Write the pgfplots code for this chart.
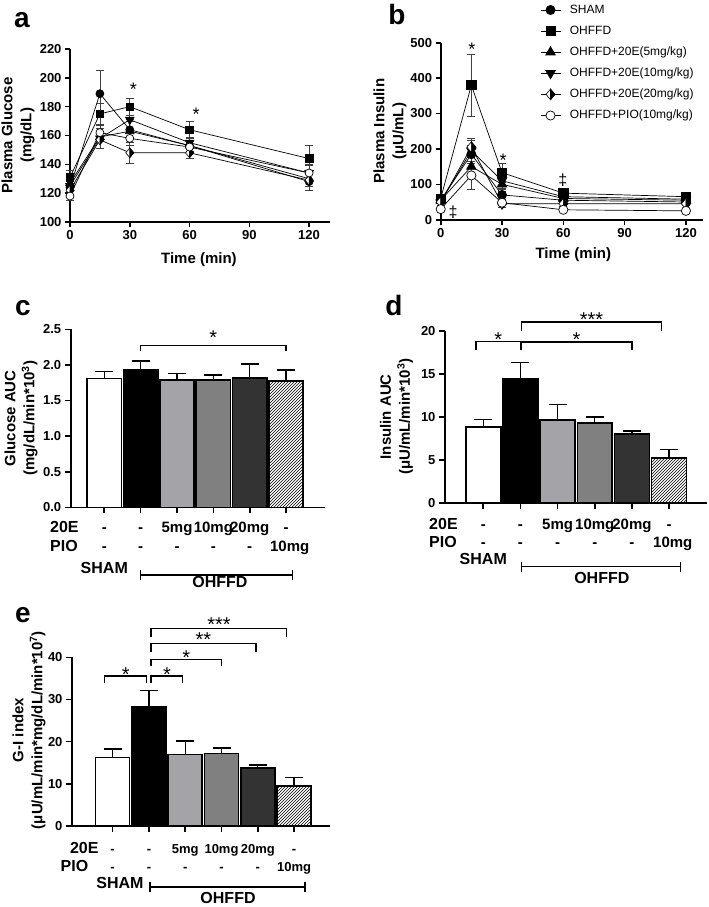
\documentclass[border=0pt]{standalone}
\usepackage{fontspec}
\setmainfont{Liberation Sans}
\usepackage{pgfplots}
\pgfplotsset{compat=1.18}
\usetikzlibrary{patterns,plotmarks}
\definecolor{gfive}{RGB}{163,163,168}
\definecolor{gten}{RGB}{128,128,128}
\definecolor{gtwenty}{RGB}{51,51,51}
\newcommand{\fs}[1]{\fontsize{#1}{#1}\selectfont}
\newcommand{\lf}{\fontsize{15}{19}\selectfont\bfseries}
% diamond with white left half and black right half
\pgfdeclareplotmark{hdr}{%
  \pgfscope
  \pgfsetfillcolor{white}%
  \pgfpathmoveto{\pgfqpoint{0pt}{\pgfplotmarksize}}%
  \pgfpathlineto{\pgfqpoint{0.85\pgfplotmarksize}{0pt}}%
  \pgfpathlineto{\pgfqpoint{0pt}{-\pgfplotmarksize}}%
  \pgfpathlineto{\pgfqpoint{-0.85\pgfplotmarksize}{0pt}}%
  \pgfpathclose
  \pgfusepathqfillstroke
  \endpgfscope
  \pgfscope
  \pgfsetfillcolor{black}%
  \pgfpathmoveto{\pgfqpoint{0pt}{\pgfplotmarksize}}%
  \pgfpathlineto{\pgfqpoint{0.85\pgfplotmarksize}{0pt}}%
  \pgfpathlineto{\pgfqpoint{0pt}{-\pgfplotmarksize}}%
  \pgfpathclose
  \pgfusepathqfillstroke
  \endpgfscope
}
\pgfplotsset{
  gp/.style={scale only axis, clip=false, axis lines=left,
    axis line style={line width=1.6pt,-},
    tick style={line width=1.6pt,black},
    major tick length=5pt, tick align=outside,
    xticklabel style={font=\fs{13}\bfseries},
    yticklabel style={font=\fs{13}\bfseries},
    /pgf/number format/assume math mode=true,
    xlabel style={font=\lf, align=center},
    ylabel style={font=\lf, align=center}},
  ln/.style={black, line width=0.7pt,
    error bars/y dir=both, error bars/y explicit,
    error bars/error bar style={line width=0.6pt, black!75},
    error bars/error mark options={rotate=90, mark size=4pt, line width=0.6pt, black!75}},
  br/.style={ybar, bar shift=0pt, bar width=0.94, draw=black, line width=1.6pt,
    error bars/y dir=plus, error bars/y explicit,
    error bars/error bar style={line width=1.4pt, black},
    error bars/error mark options={rotate=90, mark size=9pt, line width=1.4pt, black}},
}
\tikzset{
  brk/.style={line width=1.3pt},
  st/.style={font=\fs{20}, yshift=-4.3pt},
  stl/.style={font=\fs{18}, yshift=-3.9pt},
  hd/.style={anchor=base west, font=\fs{16}\bfseries},
  en/.style={anchor=base, font=\fs{15}\bfseries},
  ens/.style={anchor=base, font=\fs{13}\bfseries},
}
\begin{document}
\begin{tikzpicture}
\useasboundingbox (0pt,0pt) rectangle (709pt,-907pt);

% ---------------- panel a ----------------
\begin{axis}[gp, at={(70pt,-222pt)}, anchor=south west, width=260pt, height=173pt,
  xmin=0, xmax=130.5, ymin=100, ymax=220,
  xtick={0,30,60,90,120}, ytick={100,120,140,160,180,200,220},
  xlabel={Time (min)}, ylabel={Plasma Glucose\\(mg/dL)},
  xlabel style={at={(axis description cs:0.496,-0.22)}, anchor=center},
  ylabel style={at={(axis description cs:-0.2,0.5)}, anchor=center}]
\addplot[ln, mark=*, mark size=4pt, mark options={solid, fill=black}] coordinates {
 (0,124) +- (0,5) (15,189) +- (0,16) (30,164) +- (0,6) (60,153) +- (0,4) (120,128) +- (0,6)};
\addplot[ln, mark=square*, mark size=3.8pt, mark options={solid, fill=black}] coordinates {
 (0,131) +- (0,5) (15,175) +- (0,7) (30,180) +- (0,6) (60,164) +- (0,6) (120,144) +- (0,9)};
\addplot[ln, mark=triangle*, mark size=5pt, mark options={solid, fill=black}] coordinates {
 (0,127) +- (0,4) (15,159) +- (0,8) (30,163) +- (0,8) (60,153) +- (0,4) (120,130) +- (0,5)};
\addplot[ln, mark=triangle*, mark size=5pt, mark options={solid, fill=black, rotate=180}] coordinates {
 (0,125) +- (0,4) (15,158) +- (0,7) (30,171) +- (0,8) (60,155) +- (0,4) (120,134) +- (0,6)};
\addplot[ln, mark=hdr, mark size=4.8pt, mark options={solid, line width=0.6pt}] coordinates {
 (0,122) +- (0,4) (15,157) +- (0,6) (30,148) +- (0,7) (60,148) +- (0,4) (120,129) +- (0,7)};
\addplot[ln, mark=*, mark size=4pt, mark options={solid, fill=white}] coordinates {
 (0,118) +- (0,3) (15,162) +- (0,6) (30,158) +- (0,5) (60,152) +- (0,4) (120,134) +- (0,5)};
\node[stl] at (axis cs:31.8,195) {*};
\node[stl] at (axis cs:63.3,177.7) {*};
\end{axis}

% ---------------- panel b ----------------
\begin{axis}[gp, at={(440.7pt,-219.7pt)}, anchor=south west, width=262.6pt, height=177pt,
  xmin=0, xmax=128.5, ymin=0, ymax=500,
  xtick={0,30,60,90,120}, ytick={0,100,200,300,400,500},
  xlabel={Time (min)}, ylabel={Plasma Insulin\\(μU/mL)},
  xlabel style={at={(axis description cs:0.505,-0.2)}, anchor=center},
  ylabel style={at={(axis description cs:-0.193,0.5)}, anchor=center},
  legend image code/.code={\draw[mark repeat=2, mark phase=2, #1] plot coordinates {(0pt,0pt) (10pt,0pt) (20pt,0pt)};},
  legend style={at={(axis description cs:0.378,1.224)}, anchor=north west, draw=none, fill=none,
    font=\fs{12}, row sep=7.6pt, inner sep=0pt,
    nodes={inner sep=1pt, text height=9pt, text depth=2.5pt},
    /tikz/every odd column/.append style={column sep=8pt}},
  legend cell align=left]
\addplot[ln, mark=*, mark size=4.6pt, mark options={solid, fill=black}] coordinates {
 (0,55) +- (0,10) (15,185) +- (0,25) (30,70) +- (0,15) (60,55) +- (0,8) (120,50) +- (0,5)};
\addlegendentry{SHAM}
\addplot[ln, mark=square*, mark size=4.6pt, mark options={solid, fill=black}] coordinates {
 (0,60) +- (0,10) (15,380) +- (0,87) (30,133) +- (0,27) (60,75) +- (0,10) (120,65) +- (0,6)};
\addlegendentry{OHFFD}
\addplot[ln, mark=triangle*, mark size=5.5pt, mark options={solid, fill=black}] coordinates {
 (0,55) +- (0,8) (15,150) +- (0,25) (30,100) +- (0,20) (60,60) +- (0,8) (120,55) +- (0,6)};
\addlegendentry{OHFFD+20E(5mg/kg)}
\addplot[ln, mark=triangle*, mark size=5.5pt, mark options={solid, fill=black, rotate=180}] coordinates {
 (0,50) +- (0,8) (15,195) +- (0,30) (30,110) +- (0,20) (60,65) +- (0,8) (120,58) +- (0,6)};
\addlegendentry{OHFFD+20E(10mg/kg)}
\addplot[ln, mark=hdr, mark size=5.3pt, mark options={solid, line width=0.6pt}] coordinates {
 (0,50) +- (0,8) (15,205) +- (0,25) (30,45) +- (0,10) (60,45) +- (0,6) (120,45) +- (0,5)};
\addlegendentry{OHFFD+20E(20mg/kg)}
\addplot[ln, mark=*, mark size=4.6pt, mark options={solid, fill=white}] coordinates {
 (0,30) +- (0,5) (15,125) +- (0,40) (30,48) +- (0,8) (60,28) +- (0,5) (120,25) +- (0,5)};
\addlegendentry{OHFFD+PIO(10mg/kg)}
\node[stl] at (axis cs:15.3,493) {*};
\node[stl] at (axis cs:30.5,178) {*};
\node[font=\fs{16}] at (axis cs:6,22) {‡};
\node[font=\fs{16}] at (axis cs:59.7,112) {‡};
\end{axis}

% ---------------- panel c ----------------
\begin{axis}[gp, at={(70.7pt,-507.3pt)}, anchor=south west, width=254.3pt, height=178pt,
  major tick length=6pt,
  xmin=-0.924, xmax=6.07, ymin=0, ymax=2.5,
  xtick={0,1,2,3,4,5}, xticklabels={},
  ytick={0,0.5,1,1.5,2,2.5},
  yticklabel style={/pgf/number format/.cd, fixed, fixed zerofill, precision=1},
  ylabel={Glucose AUC\\(mg/dL/min*10\textsuperscript{3})},
  ylabel style={at={(axis description cs:-0.195,0.5)}, anchor=center}]
\addplot[br, fill=white] coordinates {(0,1.81) +- (0,0.10)};
\addplot[br, fill=black] coordinates {(1,1.935) +- (0,0.12)};
\addplot[br, fill=gfive] coordinates {(2,1.785) +- (0,0.095)};
\addplot[br, fill=gten] coordinates {(3,1.785) +- (0,0.075)};
\addplot[br, fill=gtwenty] coordinates {(4,1.815) +- (0,0.195)};
\addplot[br, fill=white, pattern=north east lines, pattern color=black] coordinates {(5,1.775) +- (0,0.155)};
\draw[brk] (axis cs:1,2.19) -- (axis cs:1,2.27) -- (axis cs:5,2.27) -- (axis cs:5,2.19);
\node[st] at (axis cs:3,2.44) {*};
\node[hd] at (axis cs:-1.585,-0.348) {20E};
\node[hd] at (axis cs:-1.585,-0.615) {PIO};
\node[en] at (axis cs:0,-0.348) {-};
\node[en] at (axis cs:1,-0.348) {-};
\node[en] at (axis cs:2,-0.348) {5mg};
\node[en] at (axis cs:3,-0.348) {10mg};
\node[en] at (axis cs:4,-0.348) {20mg};
\node[en] at (axis cs:5,-0.348) {-};
\node[en] at (axis cs:0,-0.615) {-};
\node[en] at (axis cs:1,-0.615) {-};
\node[en] at (axis cs:2,-0.615) {-};
\node[en] at (axis cs:3,-0.615) {-};
\node[en] at (axis cs:4,-0.615) {-};
\node[en] at (axis cs:5.1,-0.615) {10mg};
\node[anchor=base, font=\fs{16}\bfseries] at (axis cs:0,-0.924) {SHAM};
\draw[brk] (axis cs:1,-0.88) -- (axis cs:1,-1.02);
\draw[brk] (axis cs:5.17,-0.88) -- (axis cs:5.17,-1.02);
\draw[brk] (axis cs:1,-0.951) -- (axis cs:5.17,-0.951);
\node[anchor=base, font=\fs{16}\bfseries] at (axis cs:3.18,-1.133) {OHFFD};
\end{axis}

% ---------------- panel d ----------------
\begin{axis}[gp, at={(445pt,-502.7pt)}, anchor=south west, width=262pt, height=172pt,
  major tick length=6pt,
  xmin=-1.03, xmax=6.02, ymin=0, ymax=20,
  xtick={0,1,2,3,4,5}, xticklabels={},
  ytick={0,5,10,15,20},
  ylabel={Insulin AUC\\(μU/mL/min*10\textsuperscript{3})},
  ylabel style={at={(axis description cs:-0.185,0.5)}, anchor=center}]
\addplot[br, fill=white] coordinates {(0,8.8) +- (0,0.9)};
\addplot[br, fill=black] coordinates {(1,14.42) +- (0,1.88)};
\addplot[br, fill=gfive] coordinates {(2,9.6) +- (0,1.8)};
\addplot[br, fill=gten] coordinates {(3,9.26) +- (0,0.7)};
\addplot[br, fill=gtwenty] coordinates {(4,7.98) +- (0,0.35)};
\addplot[br, fill=white, pattern=north east lines, pattern color=black] coordinates {(5,5.23) +- (0,0.93)};
\draw[brk] (axis cs:-0.2,17.75) -- (axis cs:-0.2,18.76) -- (axis cs:1,18.76) -- (axis cs:1,17.75);
\node[st] at (axis cs:0.4,19.5) {*};
\draw[brk] (axis cs:1.02,17.75) -- (axis cs:1.02,18.7) -- (axis cs:4,18.7) -- (axis cs:4,17.75);
\node[st] at (axis cs:2.51,19.5) {*};
\draw[brk] (axis cs:1.02,20) -- (axis cs:1.02,21) -- (axis cs:4.8,21) -- (axis cs:4.8,20);
\node[st] at (axis cs:2.91,21.8) {***};
\node[hd] at (axis cs:-1.55,-3.06) {20E};
\node[hd] at (axis cs:-1.55,-5.23) {PIO};
\node[en] at (axis cs:0,-3.06) {-};
\node[en] at (axis cs:1,-3.06) {-};
\node[en] at (axis cs:2,-3.06) {5mg};
\node[en] at (axis cs:3,-3.06) {10mg};
\node[en] at (axis cs:4,-3.06) {20mg};
\node[en] at (axis cs:5,-3.06) {-};
\node[en] at (axis cs:0,-5.23) {-};
\node[en] at (axis cs:1,-5.23) {-};
\node[en] at (axis cs:2,-5.23) {-};
\node[en] at (axis cs:3,-5.23) {-};
\node[en] at (axis cs:4,-5.23) {-};
\node[en] at (axis cs:5.1,-5.23) {10mg};
\node[anchor=base, font=\fs{16}\bfseries] at (axis cs:0,-7.24) {SHAM};
\draw[brk] (axis cs:1.03,-6.86) -- (axis cs:1.03,-8.02);
\draw[brk] (axis cs:5.31,-6.86) -- (axis cs:5.31,-8.02);
\draw[brk] (axis cs:1.03,-7.44) -- (axis cs:5.31,-7.44);
\node[anchor=base, font=\fs{16}\bfseries] at (axis cs:3.19,-9.34) {OHFFD};
\end{axis}

% ---------------- panel e ----------------
\begin{axis}[gp, at={(72pt,-826pt)}, anchor=south west, width=258pt, height=168.7pt,
  major tick length=6pt,
  xmin=-1.12, xmax=5.99, ymin=0, ymax=40,
  xtick={0,1,2,3,4,5}, xticklabels={},
  ytick={0,10,20,30,40},
  ylabel={G-I index\\(μU/mL/min*mg/dL/min*10\textsuperscript{7})},
  ylabel style={at={(axis description cs:-0.167,0.569)}, anchor=center}]
\addplot[br, fill=white] coordinates {(0,16.2) +- (0,2.06)};
\addplot[br, fill=black] coordinates {(1,28.3) +- (0,3.9)};
\addplot[br, fill=gfive] coordinates {(2,17.0) +- (0,3.2)};
\addplot[br, fill=gten] coordinates {(3,17.15) +- (0,1.35)};
\addplot[br, fill=gtwenty] coordinates {(4,13.7) +- (0,0.77)};
\addplot[br, fill=white, pattern=north east lines, pattern color=black] coordinates {(5,9.49) +- (0,2.05)};
\draw[brk] (axis cs:-0.23,33.8) -- (axis cs:-0.23,35.6) -- (axis cs:0.94,35.6) -- (axis cs:0.94,33.8);
\node[st] at (axis cs:0.36,37.0) {*};
\draw[brk] (axis cs:1.06,33.8) -- (axis cs:1.06,35.6) -- (axis cs:1.93,35.6) -- (axis cs:1.93,33.8);
\node[st] at (axis cs:1.5,37.0) {*};
\draw[brk] (axis cs:1.06,37.9) -- (axis cs:1.06,39.5) -- (axis cs:3.0,39.5) -- (axis cs:3.0,37.9);
\node[st] at (axis cs:2.03,40.9) {*};
\draw[brk] (axis cs:1.06,41.3) -- (axis cs:1.06,43.3) -- (axis cs:3.95,43.3) -- (axis cs:3.95,41.3);
\node[st] at (axis cs:2.5,45.3) {**};
\draw[brk] (axis cs:1.06,44.9) -- (axis cs:1.06,46.9) -- (axis cs:4.8,46.9) -- (axis cs:4.8,44.9);
\node[st] at (axis cs:2.93,48.7) {***};
\node[hd] at (axis cs:-1.27,-6.40) {20E};
\node[hd] at (axis cs:-1.53,-10.9) {PIO};
\node[ens] at (axis cs:0,-6.40) {-};
\node[ens] at (axis cs:1,-6.40) {-};
\node[ens] at (axis cs:2,-6.40) {5mg};
\node[ens] at (axis cs:3,-6.40) {10mg};
\node[ens] at (axis cs:4,-6.40) {20mg};
\node[ens] at (axis cs:5,-6.40) {-};
\node[ens] at (axis cs:0,-10.9) {-};
\node[ens] at (axis cs:1,-10.9) {-};
\node[ens] at (axis cs:2,-10.9) {-};
\node[ens] at (axis cs:3,-10.9) {-};
\node[ens] at (axis cs:4,-10.9) {-};
\node[ens] at (axis cs:5,-10.9) {10mg};
\node[anchor=base, font=\fs{16}\bfseries] at (axis cs:0.2,-14.7) {SHAM};
\draw[brk] (axis cs:1.03,-13.27) -- (axis cs:1.03,-15.65);
\draw[brk] (axis cs:5.3,-13.27) -- (axis cs:5.3,-15.65);
\draw[brk] (axis cs:1.03,-14.46) -- (axis cs:5.3,-14.46);
\node[anchor=base, font=\fs{16}\bfseries] at (axis cs:3.18,-18.26) {OHFFD};
\end{axis}

% panel letters
\node[anchor=base, font=\fs{28}\bfseries] at (22pt,-28pt) {a};
\node[anchor=base, font=\fs{28}\bfseries] at (397pt,-25pt) {b};
\node[anchor=base, font=\fs{28}\bfseries] at (23pt,-315pt) {c};
\node[anchor=base, font=\fs{28}\bfseries] at (394pt,-315pt) {d};
\node[anchor=base, font=\fs{28}\bfseries] at (23pt,-622pt) {e};
\end{tikzpicture}
\end{document}
